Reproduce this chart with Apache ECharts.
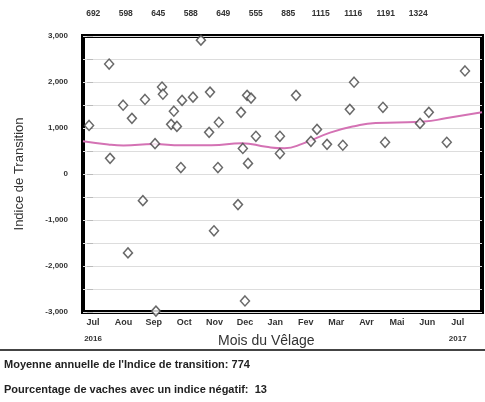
<!DOCTYPE html>
<html><head><meta charset="utf-8">
<script src="https://cdn.jsdelivr.net/npm/echarts@6/dist/echarts.min.js"></script>
<style>html,body{margin:0;padding:0;background:#fff}#c{width:485px;height:402px}</style>
</head><body><div id="c"></div>
<script>
// month index: 0 = Jul 2016 ... 12 = Jul 2017
const monthLabels = ['Jul','Aou','Sep','Oct','Nov','Dec','Jan','Fev','Mar','Avr','Mai','Jun','Jul'];
const topLabels = ['692','598','645','588','649','555','885','1115','1116','1191','1324'];
const pointMonths = [-0.13,0.53,0.56,0.99,1.28,1.15,1.64,1.71,2.04,2.07,2.27,2.30,2.66,2.57,2.76,2.89,2.93,3.29,3.55,3.85,3.82,4.14,4.11,3.98,4.77,4.87,5.07,5.20,5.36,4.93,5.10,5.00,6.15,6.15,6.68,7.17,7.37,7.70,8.22,8.45,8.59,9.54,9.61,10.76,11.05,11.64,12.24];
const pointValues = [1055,2390,340,1495,1210,-1715,-580,1620,660,-2980,1890,1735,1365,1080,1035,140,1600,1670,2910,1780,905,1125,140,-1235,-665,1340,1710,1650,820,555,230,-2760,820,445,1710,710,970,645,625,1405,1995,1450,690,1100,1340,690,2240];
const trendMonths = [-0.33,0.5,1.0,2.0,2.9,3.9,4.9,5.7,6.3,6.9,7.8,8.6,9.3,10.0,10.9,11.6,12.8];
const trendValues = [710,640,620,650,625,625,670,590,560,660,900,1040,1110,1120,1140,1210,1340];
const annualMean = 774;
const pctNegative = 13;

const chart = echarts.init(document.getElementById('c'));
const F = 'Liberation Sans, Arial, sans-serif';
chart.setOption({
  animation:false,
  grid:[
    {left:83,top:36,right:3,bottom:90,show:true,borderColor:'#000',borderWidth:4,backgroundColor:'transparent'},
    {left:77,top:20,width:357.5,height:1}
  ],
  xAxis:[
    {type:'value',gridIndex:0,min:-0.33,max:12.8,
     axisLine:{show:false},splitLine:{show:false},
     axisTick:{show:false},
     axisLabel:{customValues:monthLabels.map((_,i)=>i),margin:3,
       formatter:function(v){
         const i=Math.round(v); const m=monthLabels[i];
         if(i===0) return '{m|'+m+'}\n{y|2016}';
         if(i===12) return '{m|'+m+'}\n{y|2017}';
         return '{m|'+m+'}';
       },
       rich:{m:{fontFamily:F,fontWeight:'bold',fontSize:9,color:'#333',lineHeight:16},
             y:{fontFamily:F,fontWeight:'bold',fontSize:8,color:'#333',lineHeight:16}}}},
    {type:'category',gridIndex:1,position:'top',data:topLabels,
     axisLine:{show:false},axisTick:{show:false},
     axisLabel:{fontFamily:F,fontWeight:'bold',fontSize:8.5,color:'#333',margin:2}}
  ],
  yAxis:[
    {type:'value',gridIndex:0,min:-3000,max:3000,interval:500,
     name:'Indice de Transition',nameLocation:'middle',nameGap:57,
     nameTextStyle:{fontFamily:F,fontSize:13,color:'#333'},
     axisLine:{show:false},
     axisTick:{show:true,length:6,lineStyle:{color:'#bbb'}},
     splitLine:{show:true,lineStyle:{color:'#ddd',width:1}},
     axisLabel:{margin:15,fontFamily:F,fontWeight:'bold',fontSize:8,color:'#333',
       formatter:function(v){return v%1000===0? v.toLocaleString('en-US'):'';}}},
    {type:'value',gridIndex:1,show:false}
  ],
  series:[
    {type:'line',xAxisIndex:0,yAxisIndex:0,smooth:true,symbol:'none',
     data:trendMonths.map((m,i)=>[m,trendValues[i]]),
     lineStyle:{color:'#d472b4',width:2},z:2},
    {type:'scatter',xAxisIndex:0,yAxisIndex:0,symbol:'diamond',symbolSize:[9,10],
     data:pointMonths.map((m,i)=>[m,pointValues[i]]),
     itemStyle:{color:'#fff',borderColor:'#444',borderWidth:1.5},z:3}
  ],
  graphic:[
    {type:'text',left:218,top:334,style:{text:'Mois du Vêlage',font:'14px '+F,fill:'#333'}},
    {type:'line',shape:{x1:0,y1:350,x2:485,y2:350},style:{stroke:'#444',lineWidth:2}},
    {type:'text',left:4,top:359,style:{text:"Moyenne annuelle de l'Indice de transition: "+annualMean,font:'bold 11px '+F,fill:'#222'}},
    {type:'text',left:4,top:384,style:{text:'Pourcentage de vaches avec un indice négatif:  '+pctNegative,font:'bold 11px '+F,fill:'#222'}}
  ]
});
</script></body></html>
